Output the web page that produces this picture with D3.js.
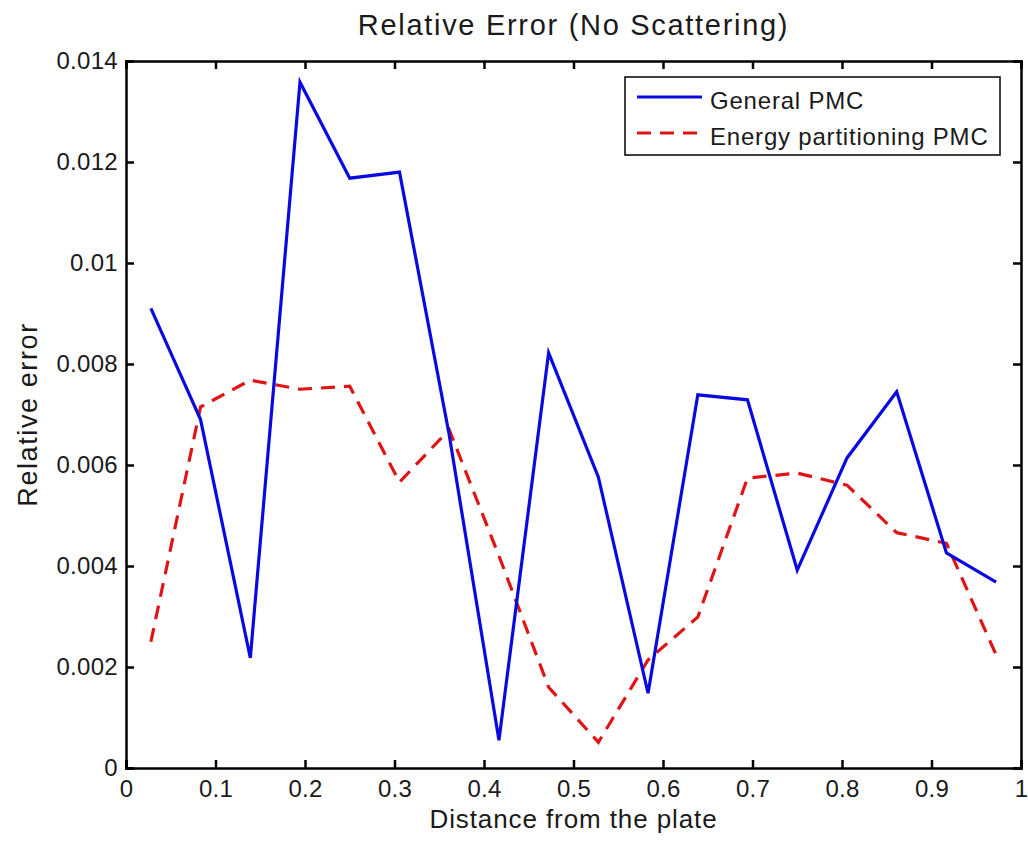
<!DOCTYPE html>
<html>
<head>
<meta charset="utf-8">
<script src="https://cdn.jsdelivr.net/npm/d3@7"></script>
<style>
  html, body { margin: 0; padding: 0; background: #fff; }
  svg text { font-family: "Liberation Sans", Arial, Helvetica, sans-serif; fill: #1a1a1a; }
</style>
</head>
<body>
<svg id="chart" width="1028" height="844"></svg>
<script>
// Bin centres along the plate (18 bins over [0, 1])
const distance = [0.0278, 0.0833, 0.1389, 0.1944, 0.25, 0.3056, 0.3611, 0.4167, 0.4722,
                  0.5278, 0.5833, 0.6389, 0.6944, 0.75, 0.8056, 0.8611, 0.9167, 0.9722];
const generalPMC = [0.0091, 0.0069, 0.00218, 0.01358, 0.01168, 0.0118, 0.0066, 0.00055, 0.00822,
                    0.00576, 0.00148, 0.00739, 0.00729, 0.00392, 0.00614, 0.00745, 0.00426, 0.00368];
const energyPMC = [0.0025, 0.00715, 0.00768, 0.0075, 0.00756, 0.00566, 0.0067, 0.0042, 0.0016,
                   0.00051, 0.00214, 0.00299, 0.00574, 0.00584, 0.0056, 0.00466, 0.00445, 0.00224];
const xTicks = [0, 0.1, 0.2, 0.3, 0.4, 0.5, 0.6, 0.7, 0.8, 0.9, 1];
const yTicks = [0, 0.002, 0.004, 0.006, 0.008, 0.01, 0.012, 0.014];
const seriesNames = ["General PMC", "Energy partitioning PMC"];

const svg = d3.select("#chart");
const plotLeft = 126, plotRight = 1021, plotTop = 61, plotBottom = 768;

const x = d3.scaleLinear().domain([0, 1]).range([plotLeft, plotRight]);
const y = d3.scaleLinear().domain([0, 0.014]).range([plotBottom, plotTop]);

const fmt = v => (v === 0 ? "0" : v === 1 ? "1" : String(+v.toFixed(3)));

// Axes with inward ticks on all four sides
const tickLen = 8;
const g = svg.append("g");
g.append("g").attr("transform", `translate(0,${plotBottom})`)
  .call(d3.axisBottom(x).tickValues(xTicks).tickSize(-tickLen).tickPadding(12).tickFormat(fmt));
g.append("g").attr("transform", `translate(0,${plotTop})`)
  .call(d3.axisTop(x).tickValues(xTicks).tickSize(-tickLen).tickFormat(""));
g.append("g").attr("transform", `translate(${plotLeft},0)`)
  .call(d3.axisLeft(y).tickValues(yTicks).tickSize(-tickLen).tickPadding(8).tickFormat(fmt));
g.append("g").attr("transform", `translate(${plotRight},0)`)
  .call(d3.axisRight(y).tickValues(yTicks).tickSize(-tickLen).tickFormat(""));
g.selectAll(".domain").attr("stroke", "#000").attr("stroke-width", 2.5);
g.selectAll(".tick line").attr("stroke", "#000").attr("stroke-width", 2.5);
g.selectAll(".tick text").attr("font-size", 24).attr("fill", "#1a1a1a")
  .attr("letter-spacing", 0.3)
  .attr("font-family", "'Liberation Sans', Arial, sans-serif");

// Data lines
const line = d3.line().x((d, i) => x(distance[i])).y(d => y(d));
svg.append("path").datum(energyPMC)
  .attr("d", line).attr("fill", "none").attr("stroke", "#e01414")
  .attr("stroke-width", 3.2).attr("stroke-dasharray", "14,9");
svg.append("path").datum(generalPMC)
  .attr("d", line).attr("fill", "none").attr("stroke", "#0a0ae0")
  .attr("stroke-width", 3.2).attr("stroke-linejoin", "miter");

// Title and axis labels
svg.append("text").attr("x", (plotLeft + plotRight) / 2).attr("y", 35)
  .attr("text-anchor", "middle").attr("font-size", 29).attr("letter-spacing", 1.7)
  .text("Relative Error (No Scattering)");
svg.append("text").attr("x", (plotLeft + plotRight) / 2).attr("y", 828)
  .attr("text-anchor", "middle").attr("font-size", 26).attr("letter-spacing", 0.9)
  .text("Distance from the plate");
svg.append("text").attr("transform", `translate(37,${(plotTop + plotBottom) / 2}) rotate(-90)`)
  .attr("text-anchor", "middle").attr("font-size", 27).attr("letter-spacing", 1.6)
  .text("Relative error");

// Legend
const lg = svg.append("g");
lg.append("rect").attr("x", 625).attr("y", 77).attr("width", 375).attr("height", 78)
  .attr("fill", "#fff").attr("stroke", "#000").attr("stroke-width", 1.5);
const legendItems = [
  { name: seriesNames[0], color: "#0a0ae0", dash: null, yy: 97 },
  { name: seriesNames[1], color: "#e01414", dash: "14,9", yy: 133 }
];
legendItems.forEach(it => {
  lg.append("line").attr("x1", 637).attr("x2", 702).attr("y1", it.yy).attr("y2", it.yy)
    .attr("stroke", it.color).attr("stroke-width", 3.2)
    .attr("stroke-dasharray", it.dash);
  lg.append("text").attr("x", 710).attr("y", it.yy + 12).attr("font-size", 24)
    .attr("letter-spacing", 0.8).text(it.name);
});
</script>
</body>
</html>
